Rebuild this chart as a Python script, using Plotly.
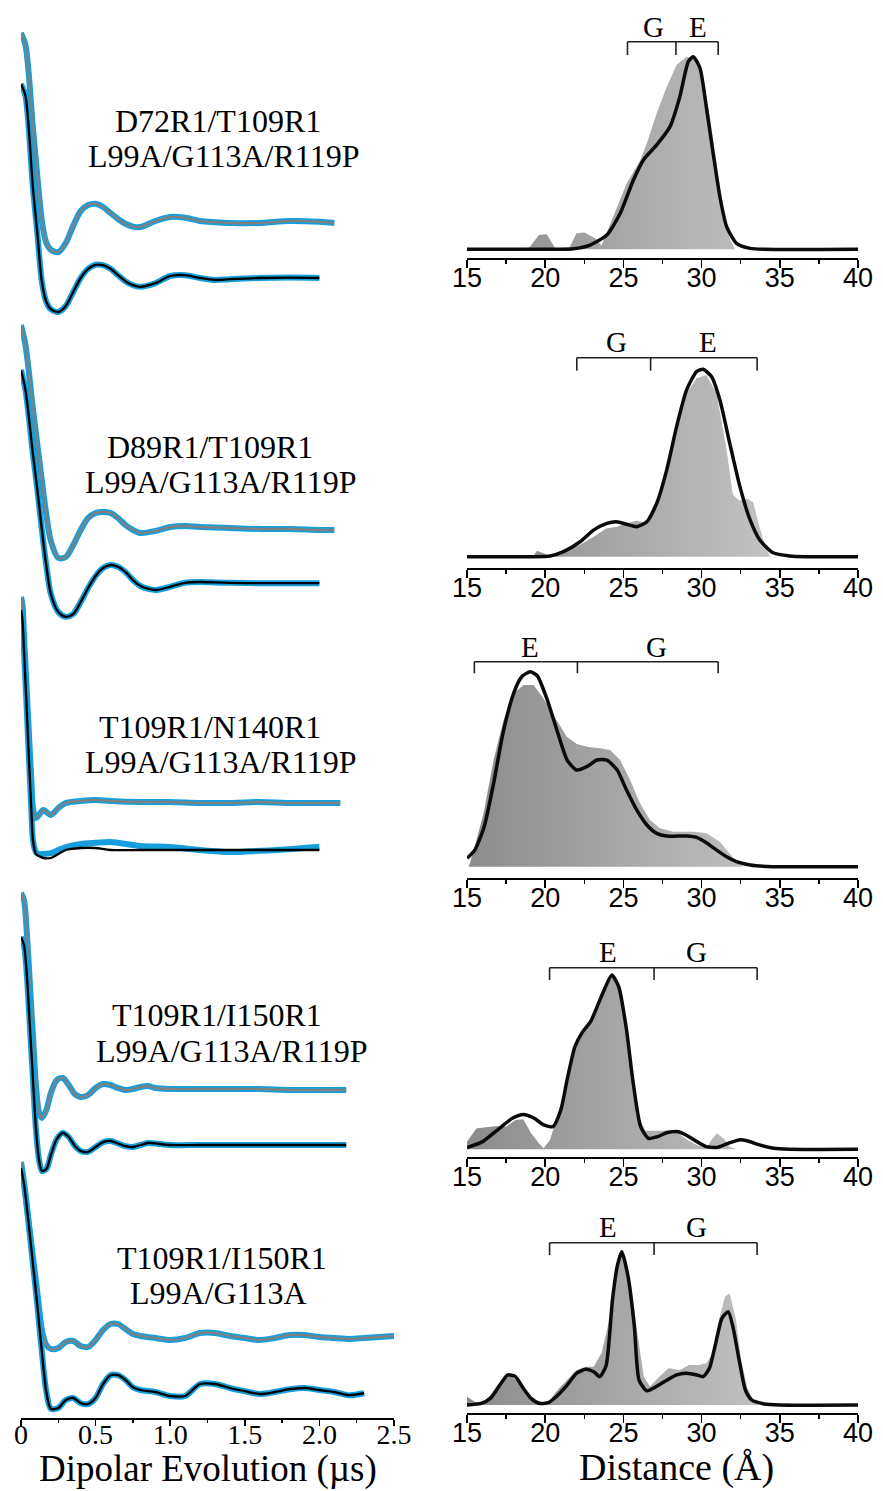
import plotly.graph_objects as go

W, H = 883, 1491

# ---------------- DEER time traces (normalized echo, V(0)=1) ----------------
t1 = [0, 0.03, 0.08, 0.11, 0.14, 0.17, 0.2, 0.25, 0.3, 0.35, 0.4, 0.45, 0.5, 0.55, 0.6, 0.65, 0.7, 0.75, 0.8, 0.9,
      1.0, 1.1, 1.2, 1.3, 1.4, 1.6, 1.8, 2.0, 2.1]
gray1 = [1.0, 0.97, 0.763, 0.64, 0.53, 0.475, 0.458, 0.452, 0.475, 0.518, 0.555, 0.570, 0.573, 0.565, 0.550, 0.535,
         0.523, 0.516, 0.515, 0.530, 0.540, 0.538, 0.530, 0.527, 0.525, 0.525, 0.530, 0.528, 0.525]
black1 = [1.0, 0.97, 0.74, 0.625, 0.505, 0.455, 0.437, 0.43, 0.445, 0.48, 0.515, 0.538, 0.548, 0.547, 0.538, 0.522,
          0.507, 0.497, 0.493, 0.502, 0.52, 0.522, 0.515, 0.51, 0.512, 0.515, 0.516, 0.515]

t2 = t1
gray2 = [1.0, 0.95, 0.79, 0.70, 0.61, 0.525, 0.46, 0.4175, 0.42, 0.45, 0.4875, 0.5175, 0.53, 0.5325, 0.53, 0.5175,
         0.5, 0.4875, 0.48, 0.485, 0.495, 0.4975, 0.495, 0.494, 0.4925, 0.49, 0.49, 0.4875, 0.4875]
black2 = [1.0, 0.95, 0.79, 0.70, 0.60, 0.51, 0.44, 0.395, 0.383, 0.39, 0.42, 0.455, 0.485, 0.505, 0.5125, 0.508,
          0.495, 0.475, 0.46, 0.45, 0.458, 0.468, 0.47, 0.469, 0.468, 0.467, 0.467, 0.467]

t3 = [0, 0.01, 0.02, 0.03, 0.04, 0.05, 0.06, 0.07, 0.08, 0.1, 0.12, 0.15, 0.2, 0.25, 0.3, 0.4, 0.5, 0.6, 0.8, 1.0,
      1.2, 1.4, 1.6, 1.8, 2.0, 2.14]
gray3 = [1.0, 0.98, 0.9025, 0.83, 0.755, 0.68, 0.6075, 0.5375, 0.4725, 0.4475, 0.455, 0.4675, 0.455, 0.4725, 0.485,
         0.49, 0.4925, 0.49, 0.4875, 0.4875, 0.485, 0.485, 0.4875, 0.485, 0.485, 0.485]
black3 = [1.0, 0.975, 0.9, 0.82, 0.74, 0.655, 0.575, 0.495, 0.425, 0.39, 0.385, 0.38, 0.38, 0.39, 0.4, 0.405, 0.405,
          0.4, 0.4, 0.4, 0.4, 0.4, 0.4, 0.4, 0.4]
data3_lower = [1.0, 0.975, 0.9, 0.82, 0.74, 0.655, 0.575, 0.495, 0.425, 0.395, 0.39, 0.39, 0.392, 0.4, 0.4075, 0.415,
               0.418, 0.42, 0.41, 0.4075, 0.4, 0.395, 0.398, 0.402, 0.408]

t4 = [0, 0.02, 0.04, 0.06, 0.08, 0.1, 0.12, 0.14, 0.17, 0.2, 0.24, 0.28, 0.32, 0.36, 0.4, 0.45, 0.5, 0.55, 0.6, 0.65,
      0.7, 0.75, 0.8, 0.85, 0.9, 1.0, 1.2, 1.4, 1.6, 1.8, 2.0, 2.18]
gray4 = [1.0, 0.9825, 0.895, 0.77, 0.645, 0.52, 0.4525, 0.4375, 0.4575, 0.5, 0.5325, 0.5375, 0.52, 0.4975, 0.49,
         0.495, 0.5125, 0.5225, 0.52, 0.5125, 0.5075, 0.51, 0.515, 0.5175, 0.5125, 0.51, 0.51, 0.51, 0.51, 0.5075,
         0.5075, 0.5075]
black4 = [1.0, 0.98, 0.9, 0.775, 0.645, 0.52, 0.445, 0.415, 0.42, 0.455, 0.495, 0.51, 0.5, 0.478, 0.465, 0.463,
          0.475, 0.487, 0.49, 0.484, 0.477, 0.475, 0.48, 0.485, 0.484, 0.48, 0.48, 0.48, 0.48, 0.48, 0.48, 0.48]

t5 = [0, 0.02, 0.05, 0.08, 0.11, 0.14, 0.17, 0.2, 0.25, 0.3, 0.35, 0.4, 0.45, 0.5, 0.55, 0.6, 0.65, 0.7, 0.75, 0.8,
      0.9, 1.0, 1.1, 1.2, 1.3, 1.4, 1.5, 1.6, 1.7, 1.8, 1.9, 2.0, 2.1, 2.2, 2.3, 2.4, 2.5]
gray5 = [1.0, 0.95, 0.855, 0.7625, 0.6725, 0.58, 0.5425, 0.5325, 0.535, 0.55, 0.5525, 0.54, 0.5375, 0.555, 0.58,
         0.595, 0.595, 0.5825, 0.57, 0.565, 0.56, 0.555, 0.56, 0.5725, 0.5725, 0.565, 0.56, 0.555, 0.56, 0.5675,
         0.5675, 0.5625, 0.56, 0.5575, 0.56, 0.5625, 0.565]
black5 = [1.0, 0.96, 0.865, 0.76, 0.655, 0.54, 0.44, 0.398, 0.4, 0.42, 0.425, 0.412, 0.41, 0.425, 0.46, 0.482, 0.482,
          0.47, 0.452, 0.445, 0.44, 0.43, 0.43, 0.46, 0.46, 0.45, 0.442, 0.435, 0.44, 0.447, 0.45, 0.445, 0.44,
          0.432, 0.437]

mutant_line1 = ["D72R1/T109R1", "D89R1/T109R1", "T109R1/N140R1", "T109R1/I150R1", "T109R1/I150R1"]
mutant_line2 = ["L99A/G113A/R119P", "L99A/G113A/R119P", "L99A/G113A/R119P", "L99A/G113A/R119P", "L99A/G113A"]

time_ticks = [0, 0.5, 1.0, 1.5, 2.0, 2.5]
time_ticktext = ["0", "0.5", "1.0", "1.5", "2.0", "2.5"]

# ---------------- Distance distributions (normalized) ----------------
r1_fit_x = [15, 18, 21.8, 22.87, 23.94, 24.8, 25.64, 26.28, 27.13, 27.98, 28.6, 29.15, 29.47, 29.9, 30.3, 30.74,
            31.17, 31.6, 32.23, 33.1, 34.0, 40]
r1_fit_y = [0, 0, 0.003, 0.022, 0.074, 0.187, 0.36, 0.464, 0.542, 0.637, 0.79, 0.974, 1.0, 0.94, 0.74, 0.498, 0.273,
            0.118, 0.031, 0.005, 0, 0]
r1_area_x = [15, 18.4, 19.0, 19.6, 20.1, 20.64, 21.5, 22.0, 22.5, 23.2, 23.6, 23.94, 24.57, 25.2, 26.06, 26.5, 27.13,
             27.77, 28.4, 29.04, 29.7, 30.1, 30.53, 30.96, 31.38, 31.8, 32.13, 40]
r1_area_y = [0, 0, 0.01, 0.074, 0.078, 0.005, 0.0, 0.083, 0.087, 0.057, 0.02, 0.09, 0.22, 0.34, 0.46, 0.55, 0.706,
             0.844, 0.957, 1.0, 0.986, 0.896, 0.689, 0.43, 0.204, 0.057, 0, 0]

r2_fit_x = [15, 19, 20.32, 21.17, 22.23, 23.09, 23.94, 24.57, 25.2, 25.85, 26.5, 27.13, 27.77, 28.4, 29.04, 29.68,
            30.1, 30.64, 31.17, 31.8, 32.45, 33.1, 33.72, 34.57, 35.64, 36.7, 40]
r2_fit_y = [0, 0, 0.004, 0.027, 0.08, 0.142, 0.178, 0.187, 0.173, 0.16, 0.187, 0.285, 0.463, 0.694, 0.89, 0.988, 1.0,
            0.96, 0.836, 0.605, 0.374, 0.196, 0.089, 0.021, 0.004, 0, 0]
r2_area_x = [15, 19.2, 19.47, 19.9, 20.3, 21.0, 21.38, 22.2, 23.1, 23.9, 24.6, 25.2, 25.85, 26.5, 27.13, 27.77, 28.4,
             29.04, 29.68, 30.3, 30.96, 31.6, 32.0, 32.4, 32.9, 33.3, 33.7, 34.1, 34.4, 40]
r2_area_y = [0, 0, 0.032, 0.018, 0.0, 0.01, 0.036, 0.062, 0.107, 0.151, 0.16, 0.178, 0.192, 0.178, 0.267, 0.427,
             0.712, 0.872, 0.952, 0.97, 0.872, 0.57, 0.33, 0.30, 0.31, 0.29, 0.16, 0.05, 0, 0]

r3_fit_x = [15.0, 15.5, 16.1, 16.7, 17.3, 17.98, 18.5, 19.04, 19.5, 20.1, 20.75, 21.4, 22.0, 22.66, 23.3, 23.94, 24.6,
            25.2, 25.85, 26.5, 27.13, 27.77, 28.4, 29.04, 29.68, 30.3, 30.96, 31.6, 32.23, 33.1, 34.57, 37, 40]
r3_fit_y = [0.043, 0.085, 0.205, 0.427, 0.684, 0.889, 0.974, 1.0, 0.978, 0.863, 0.7, 0.547, 0.496, 0.513, 0.547,
            0.547, 0.496, 0.393, 0.291, 0.214, 0.171, 0.157, 0.157, 0.157, 0.15, 0.123, 0.085, 0.051, 0.026, 0.009,
            0, 0, 0]
r3_area_x = [15.11, 15.43, 16.06, 16.7, 17.34, 17.98, 18.62, 19.26, 19.89, 20.74, 21.38, 22.02, 22.66, 23.51, 24.15,
             24.79, 25.43, 26.06, 26.7, 27.34, 28.19, 29.47, 30.32, 31.17, 31.81, 32.23, 32.66, 40]
r3_area_y = [0, 0.085, 0.274, 0.547, 0.752, 0.889, 0.932, 0.932, 0.863, 0.752, 0.667, 0.629, 0.615, 0.607, 0.598,
             0.547, 0.444, 0.325, 0.239, 0.197, 0.179, 0.179, 0.171, 0.128, 0.068, 0.026, 0, 0]

r4_fit_x = [15.0, 16.0, 17.0, 17.9, 18.6, 19.3, 19.9, 20.5, 21.0, 21.4, 21.9, 22.4, 22.9, 23.72, 24.26, 24.7, 25.2,
            25.6, 26.1, 26.6, 27.2, 27.8, 28.5, 29.0, 29.7, 30.3, 31.0, 31.6, 32.4, 33.0, 33.7, 34.6, 35.6, 40]
r4_fit_y = [0.01, 0.044, 0.115, 0.178, 0.2, 0.178, 0.14, 0.13, 0.226, 0.398, 0.589, 0.675, 0.732, 0.904, 1.0, 0.933,
            0.685, 0.398, 0.13, 0.063, 0.073, 0.096, 0.101, 0.082, 0.044, 0.015, 0.011, 0.031, 0.054, 0.046, 0.025,
            0.006, 0, 0]
r4_area_x = [15.0, 15.6, 16.2, 16.9, 17.5, 18.1, 18.6, 19.1, 19.6, 19.9, 20.3, 20.7, 21.0, 21.4, 21.9, 22.4, 22.9,
             23.5, 24.0, 24.3, 24.8, 25.2, 25.6, 26.0, 26.4, 27.2, 27.8, 28.5, 29.1, 29.7, 30.3, 30.7, 31.0, 31.5,
             31.8, 32.2, 40]
r4_area_y = [0.044, 0.12, 0.126, 0.134, 0.13, 0.168, 0.172, 0.092, 0.034, 0.006, 0.054, 0.168, 0.226, 0.36, 0.589,
             0.685, 0.742, 0.857, 0.962, 0.99, 0.914, 0.704, 0.398, 0.187, 0.107, 0.107, 0.107, 0.092, 0.054, 0.025,
             0.006, 0.063, 0.092, 0.054, 0.015, 0, 0]

r5_fit_x = [15.0, 15.9, 16.5, 17.1, 17.6, 18.1, 18.6, 19.1, 19.6, 20.2, 20.7, 21.4, 22.0, 22.6, 23.1, 23.5, 23.9,
            24.3, 24.6, 24.9, 25.3, 25.7, 26.0, 26.5, 27.1, 27.8, 28.4, 29.0, 29.7, 30.1, 30.5, 30.9, 31.3, 31.7,
            32.0, 32.4, 32.8, 33.2, 34.0, 35.0, 40]
r5_fit_y = [0.0, 0.011, 0.043, 0.13, 0.196, 0.185, 0.109, 0.043, 0.011, 0.015, 0.054, 0.13, 0.207, 0.233, 0.217,
            0.185, 0.26, 0.685, 0.902, 1.0, 0.837, 0.511, 0.163, 0.093, 0.12, 0.163, 0.196, 0.207, 0.196, 0.185,
            0.239, 0.402, 0.565, 0.609, 0.511, 0.293, 0.098, 0.033, 0.007, 0, 0]
r5_area_x = [15.0, 15.5, 16.0, 16.6, 17.2, 17.7, 18.3, 18.9, 19.5, 20.2, 20.8, 21.4, 22.0, 22.6, 23.1, 23.6, 24.0,
             24.4, 24.8, 25.1, 25.5, 25.9, 26.3, 26.7, 27.3, 27.9, 28.6, 29.2, 29.8, 30.3, 30.7, 31.1, 31.5, 31.8,
             32.2, 32.5, 32.9, 33.3, 33.7, 40]
r5_area_y = [0.054, 0.022, 0.011, 0.076, 0.163, 0.196, 0.152, 0.054, 0.015, 0.022, 0.098, 0.163, 0.228, 0.25, 0.25,
             0.337, 0.511, 0.793, 0.989, 0.967, 0.772, 0.467, 0.185, 0.12, 0.185, 0.239, 0.228, 0.261, 0.261, 0.272,
             0.337, 0.554, 0.707, 0.728, 0.554, 0.315, 0.12, 0.033, 0, 0]

bracket_edges = [[25.26, 28.36, 31.06], [22.02, 26.74, 33.55], [15.47, 22.06, 31.06],
                 [20.28, 26.96, 33.55], [20.28, 26.96, 33.55]]
bracket_labels = [["G", "E"], ["G", "E"], ["E", "G"], ["E", "G"], ["E", "G"]]
bracket_label_x = [[26.9, 29.8], [24.57, 30.4], [19.04, 27.09], [24.04, 29.68], [24.04, 29.68]]

dist_ticks = [15, 20, 25, 30, 35, 40]

# ---------------- layout constants (pixels) ----------------
def py(px):
    return 1 - px / H

SERIF = "Liberation Serif, Times New Roman, serif"
SANS = "Liberation Sans, Arial, sans-serif"
BLUE = "#169fdc"

left_axis_px = 1418
left_px_per_unit = 400.0
left_x0_px, left_x1_px = 21, 394
gray_off = [2.4625, 1.7325, 1.0525, 0.3125, -0.36]
black_off = [2.335, 1.62, 1.02, 0.2025, -0.375]
label_pos = [((218, 121), (223, 156)), ((210, 447), (220, 482)), ((210, 727), (221, 762)),
             ((217, 1015), (232, 1051)), ((222, 1258), (218, 1293))]

right_x0_px, right_x1_px = 467, 858
# axis line px, baseline px, peak px, top px
right_geom = [(258.3, 249.3, 56.7, 10), (568.3, 556.7, 369.3, 320), (878.3, 866.7, 671.7, 630),
              (1157.3, 1149.3, 975.0, 930), (1413.3, 1405.0, 1251.7, 1210)]
# bracket line px, tick-end px, label px
bracket_px = [(41.7, 55, 27), (357.7, 370.7, 341.7), (661.7, 673.3, 646.7), (967.7, 980, 951.7),
              (1242.7, 1255, 1226.7)]

fig = go.Figure()

# ---------------- left column ----------------
traces = [(t1, gray1, black1, None), (t2, gray2, black2, None), (t3, gray3, black3, data3_lower),
          (t4, gray4, black4, None), (t5, gray5, black5, None)]
for i, (tt, g, b, bd) in enumerate(traces):
    tg = tt[:len(g)]
    tb = tt[:len(b)]
    yg = [v + gray_off[i] for v in g]
    yb = [v + black_off[i] for v in b]
    ybd = [v + black_off[i] for v in (bd if bd is not None else b)]
    fig.add_trace(go.Scatter(x=tg, y=yg, mode="lines", line=dict(color=BLUE, width=6, shape="spline", smoothing=0.8),
                             xaxis="x", yaxis="y", hoverinfo="skip"))
    fig.add_trace(go.Scatter(x=tg, y=yg, mode="lines", line=dict(color="#808080", width=2.3, shape="spline", smoothing=0.8),
                             xaxis="x", yaxis="y"))
    fig.add_trace(go.Scatter(x=tb, y=ybd, mode="lines", line=dict(color=BLUE, width=6, shape="spline", smoothing=0.8),
                             xaxis="x", yaxis="y", hoverinfo="skip"))
    fig.add_trace(go.Scatter(x=tb, y=yb, mode="lines", line=dict(color="#000000", width=2.3, shape="spline", smoothing=0.8),
                             xaxis="x", yaxis="y"))

annotations = []
for i in range(5):
    (x1, y1), (x2, y2) = label_pos[i]
    annotations.append(dict(text=mutant_line1[i], x=x1 / W, y=py(y1), xref="paper", yref="paper", showarrow=False,
                            xanchor="center", yanchor="middle", font=dict(family=SERIF, size=32, color="black")))
    annotations.append(dict(text=mutant_line2[i], x=x2 / W, y=py(y2), xref="paper", yref="paper", showarrow=False,
                            xanchor="center", yanchor="middle", font=dict(family=SERIF, size=32, color="black")))

layout = dict(
    template="none",
    width=W, height=H, margin=dict(l=0, r=0, t=0, b=0, pad=0, autoexpand=False), paper_bgcolor="white",
    plot_bgcolor="rgba(0,0,0,0)", showlegend=False,
    xaxis=dict(domain=[left_x0_px / W, left_x1_px / W], range=[0, 2.5], anchor="y", showline=True, linecolor="black",
               linewidth=2, ticks="outside", ticklen=6, tickwidth=1.5, tickcolor="black", tickvals=time_ticks,
               ticktext=time_ticktext, tickfont=dict(family=SERIF, size=28, color="black"), showgrid=False,
               zeroline=False, automargin=False, ticklabelstandoff=-16,
               minor=dict(ticks="outside", ticklen=3, tickwidth=1.5, tickcolor="black",
                          tickvals=[0.25, 0.75, 1.25, 1.75, 2.25], showgrid=False)),
    yaxis=dict(domain=[py(left_axis_px), 1], range=[0, left_axis_px / left_px_per_unit], visible=False,
               anchor="x", automargin=False),
)

# ---------------- right column ----------------
fits = [(r1_fit_x, r1_fit_y, r1_area_x, r1_area_y), (r2_fit_x, r2_fit_y, r2_area_x, r2_area_y),
        (r3_fit_x, r3_fit_y, r3_area_x, r3_area_y), (r4_fit_x, r4_fit_y, r4_area_x, r4_area_y),
        (r5_fit_x, r5_fit_y, r5_area_x, r5_area_y)]
shapes = []
for i, (fx, fy, ax_, ay) in enumerate(fits):
    n = i + 2
    xa, ya = f"x{n}", f"y{n}"
    axis_px, base_px, peak_px, top_px = right_geom[i]
    scale = base_px - peak_px
    layout[f"xaxis{n}"] = dict(domain=[right_x0_px / W, right_x1_px / W], range=[15, 40], anchor=ya, showline=True,
                               linecolor="black", linewidth=2, ticks="outside", ticklen=8, tickwidth=1.5,
                               tickcolor="black", tickvals=dist_ticks, automargin=False, ticklabelstandoff=-14,
                               tickfont=dict(family=SANS, size=27, color="black"), showgrid=False, zeroline=False,
                               minor=dict(ticks="outside", ticklen=4, tickwidth=1.5, tickcolor="black",
                                          tickvals=[17.5, 22.5, 27.5, 32.5, 37.5], showgrid=False))
    layout[f"yaxis{n}"] = dict(domain=[py(axis_px), py(top_px)],
                               range=[(base_px - axis_px) / scale, (base_px - top_px) / scale],
                               visible=False, anchor=xa, automargin=False)
    fig.add_trace(go.Scatter(x=ax_, y=ay, mode="lines", line=dict(width=0, color="rgba(0,0,0,0)"), fill="tozeroy",
                             fillgradient=dict(type="horizontal", colorscale=[[0, "#8b8b8b"], [1, "#c4c4c4"]],
                                               start=15, stop=35),
                             xaxis=xa, yaxis=ya))
    fig.add_trace(go.Scatter(x=fx, y=fy, mode="lines",
                             line=dict(color="#0d0a0a", width=3.5, shape="spline", smoothing=0.6),
                             xaxis=xa, yaxis=ya))
    # bracket
    e = bracket_edges[i]
    ly, ey, ty = bracket_px[i]
    shapes.append(dict(type="line", xref=xa, yref="paper", x0=e[0], x1=e[2], y0=py(ly), y1=py(ly),
                       line=dict(color="#222222", width=1.6)))
    for xe in e:
        shapes.append(dict(type="line", xref=xa, yref="paper", x0=xe, x1=xe, y0=py(ly), y1=py(ey),
                           line=dict(color="#222222", width=1.6)))
    for lab, lx in zip(bracket_labels[i], bracket_label_x[i]):
        annotations.append(dict(text=lab, x=lx, y=py(ty), xref=xa, yref="paper", showarrow=False,
                                xanchor="center", yanchor="middle", font=dict(family=SERIF, size=29, color="black")))

annotations.append(dict(text="Dipolar Evolution (µs)", x=208 / W, y=py(1469), xref="paper", yref="paper",
                        showarrow=False, xanchor="center", yanchor="middle",
                        font=dict(family=SERIF, size=37, color="black")))
annotations.append(dict(text="Distance (Å)", x=676 / W, y=py(1467), xref="paper", yref="paper",
                        showarrow=False, xanchor="center", yanchor="middle",
                        font=dict(family=SERIF, size=38, color="black")))

layout["annotations"] = annotations
layout["shapes"] = shapes
fig.update_layout(**layout)
fig.write_html("out.html", config={"displayModeBar": False, "staticPlot": True},
               post_script="document.body.style.margin='0px';document.body.style.padding='0px';")
